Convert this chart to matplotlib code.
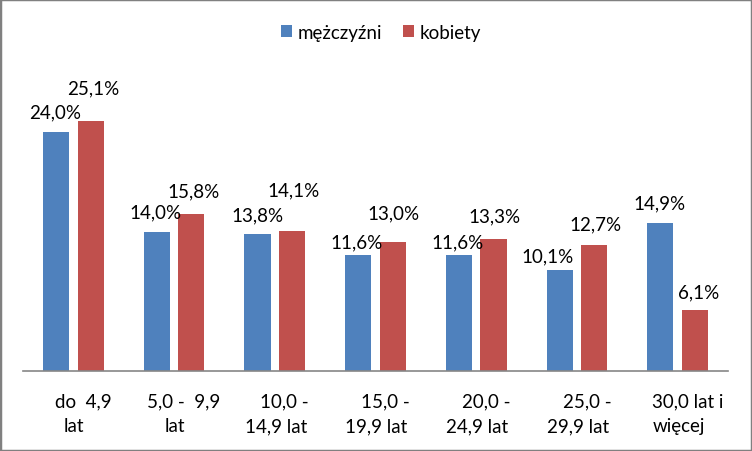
import matplotlib
matplotlib.use("Agg")
import matplotlib.pyplot as plt
from matplotlib.patches import Rectangle
from matplotlib.transforms import offset_copy
import numpy as np

categories = ["do  4,9\nlat", "5,0 -  9,9\nlat", "10,0 -\n14,9 lat", "15,0 -\n19,9 lat",
              "20,0 -\n24,9 lat", "25,0 -\n29,9 lat", "30,0 lat i\nwięcej"]
men = [24.0, 14.0, 13.8, 11.6, 11.6, 10.1, 14.9]
women = [25.1, 15.8, 14.1, 13.0, 13.3, 12.7, 6.1]
series_names = ["mężczyźni", "kobiety"]

# label placement tweaks (pixels: dx, dy above bar top)
men_lbl = [(-1, 20), (-1, 20), (0, 19), (-2, 14), (-1, 14), (-12, 15), (-1, 20)]
women_lbl = [(3, 33), (2, 23), (1, 41), (1, 29), (1, 23), (1, 21), (4, 18)]

plt.rcParams['font.family'] = ['Lato', 'DejaVu Sans']
W, H = 752, 452
fig = plt.figure(figsize=(W / 100, H / 100), dpi=100)
fig.patch.set_facecolor('white')
fig.add_artist(Rectangle((0, 0), 1, 1, transform=fig.transFigure, fill=False,
                         edgecolor='#808080', linewidth=2.5))

base_y = 372
ymax = 30
pxper = 9.96
top_y = base_y - ymax * pxper
ax = fig.add_axes([23 / W, (H - base_y) / H, (728 - 23) / W, (base_y - top_y) / H])
ax.set_xlim(-0.5, 6.5)
ax.set_ylim(0, ymax)
for s in ['top', 'right', 'left']:
    ax.spines[s].set_visible(False)
ax.spines['bottom'].set_color('#868686')
ax.spines['bottom'].set_linewidth(1.2)
ax.set_yticks([])
ax.tick_params(axis='x', length=0, pad=0)
ax.set_xticks([])

x = np.arange(len(categories))
blue, red = '#4F81BD', '#C0504D'
w = 0.26
b1 = ax.bar(x - 0.172, men, w, color=blue, label=series_names[0])
b2 = ax.bar(x + 0.172, women, w, color=red, label=series_names[1])

fs = 13.5
for i in range(len(x)):
    for val, xc, (dx, dy) in [(men[i], x[i] - 0.172, men_lbl[i]), (women[i], x[i] + 0.172, women_lbl[i])]:
        tr = offset_copy(ax.transData, fig=fig, x=dx, y=dy, units='dots')
        ax.text(xc, val, f"{val:.1f}%".replace('.', ','), transform=tr,
                ha='center', va='center', fontsize=fs, color='black')

# category labels (two lines, first line shifted slightly right as in the original)
for i, c in enumerate(categories):
    l1, l2 = c.split('\n')
    tr1 = offset_copy(ax.transData, fig=fig, x=10, y=-(402 - base_y), units='dots')
    tr2 = offset_copy(ax.transData, fig=fig, x=1, y=-(427 - base_y), units='dots')
    ax.text(i, 0, l1, transform=tr1, ha='center', va='center', fontsize=fs)
    ax.text(i, 0, l2, transform=tr2, ha='center', va='center', fontsize=fs)

leg = fig.legend(handles=[b1, b2], labels=series_names, loc='center',
                 bbox_to_anchor=(381 / W, 1 - 33 / H), ncol=2, frameon=False,
                 fontsize=fs, handlelength=0.6, handleheight=0.6, handletextpad=0.3,
                 columnspacing=1.1)

fig.savefig('out.png', dpi=100)
